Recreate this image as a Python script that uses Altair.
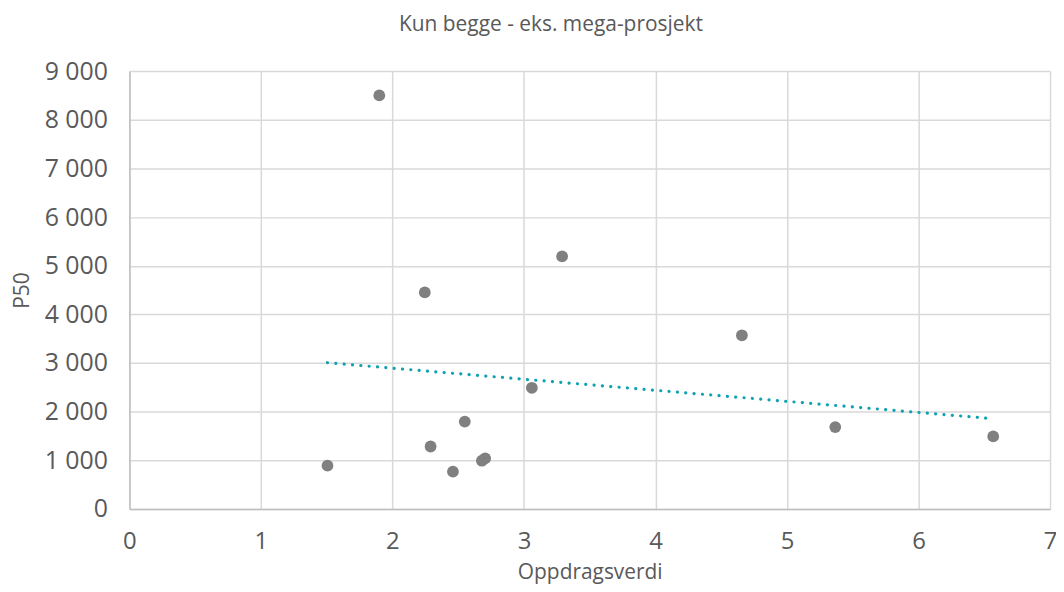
import altair as alt
import pandas as pd

oppdragsverdi = [1.506, 1.90, 2.246, 2.29, 2.46, 2.55, 2.68, 2.705, 3.06, 3.29, 4.657, 5.367, 6.568]
p50 = [890, 8500, 4450, 1284, 767, 1796, 992, 1039, 2491, 5190, 3570, 1683, 1491]

df = pd.DataFrame({"Oppdragsverdi": oppdragsverdi, "P50": p50})

FONT = "Open Sans"
TXT = "#595959"

x = alt.X("Oppdragsverdi:Q", scale=alt.Scale(domain=[0, 7], nice=False),
          axis=alt.Axis(values=[0, 1, 2, 3, 4, 5, 6, 7], title="Oppdragsverdi",
                        labelFontSize=24, labelPadding=21, labelFlush=False,
                        titleFontSize=21, titlePadding=8, format="d"))
y = alt.Y("P50:Q", scale=alt.Scale(domain=[0, 9000], nice=False),
          axis=alt.Axis(values=list(range(0, 9001, 1000)), title="P50",
                        labelFontSize=25, labelPadding=22, labelFlush=False,
                        titleFontSize=21, titlePadding=12,
                        labelExpr="replace(format(datum.value, ','), ',', ' ')"))

points = alt.Chart(df).mark_circle(size=140, color="#808080", opacity=1).encode(x=x, y=y)

trend = alt.Chart(df).transform_regression("Oppdragsverdi", "P50").mark_line(
    color="#0fa3b1", strokeWidth=3.2, strokeDash=[0.1, 8.3], strokeCap="round"
).encode(x=x, y=y)

chart = alt.layer(trend, points).properties(
    width=925, height=440,
    title=alt.TitleParams("Kun begge - eks. mega-prosjekt", fontSize=21, font=FONT,
                          color=TXT, fontWeight="normal", dx=-39, offset=24, anchor="middle"),
    autosize=alt.AutoSizeParams(type="none"),
    padding={"left": 122, "top": 62, "right": 6, "bottom": 74},
).configure_view(stroke=None).configure_axis(
    gridColor="#d9d9d9", gridWidth=1.5, domainColor="#bfbfbf", domainWidth=1.5,
    ticks=False, labelColor=TXT, titleColor=TXT, labelFont=FONT, titleFont=FONT,
    titleFontWeight="normal"
)

chart.save("out.html", embed_options={"renderer": "svg", "actions": False})
